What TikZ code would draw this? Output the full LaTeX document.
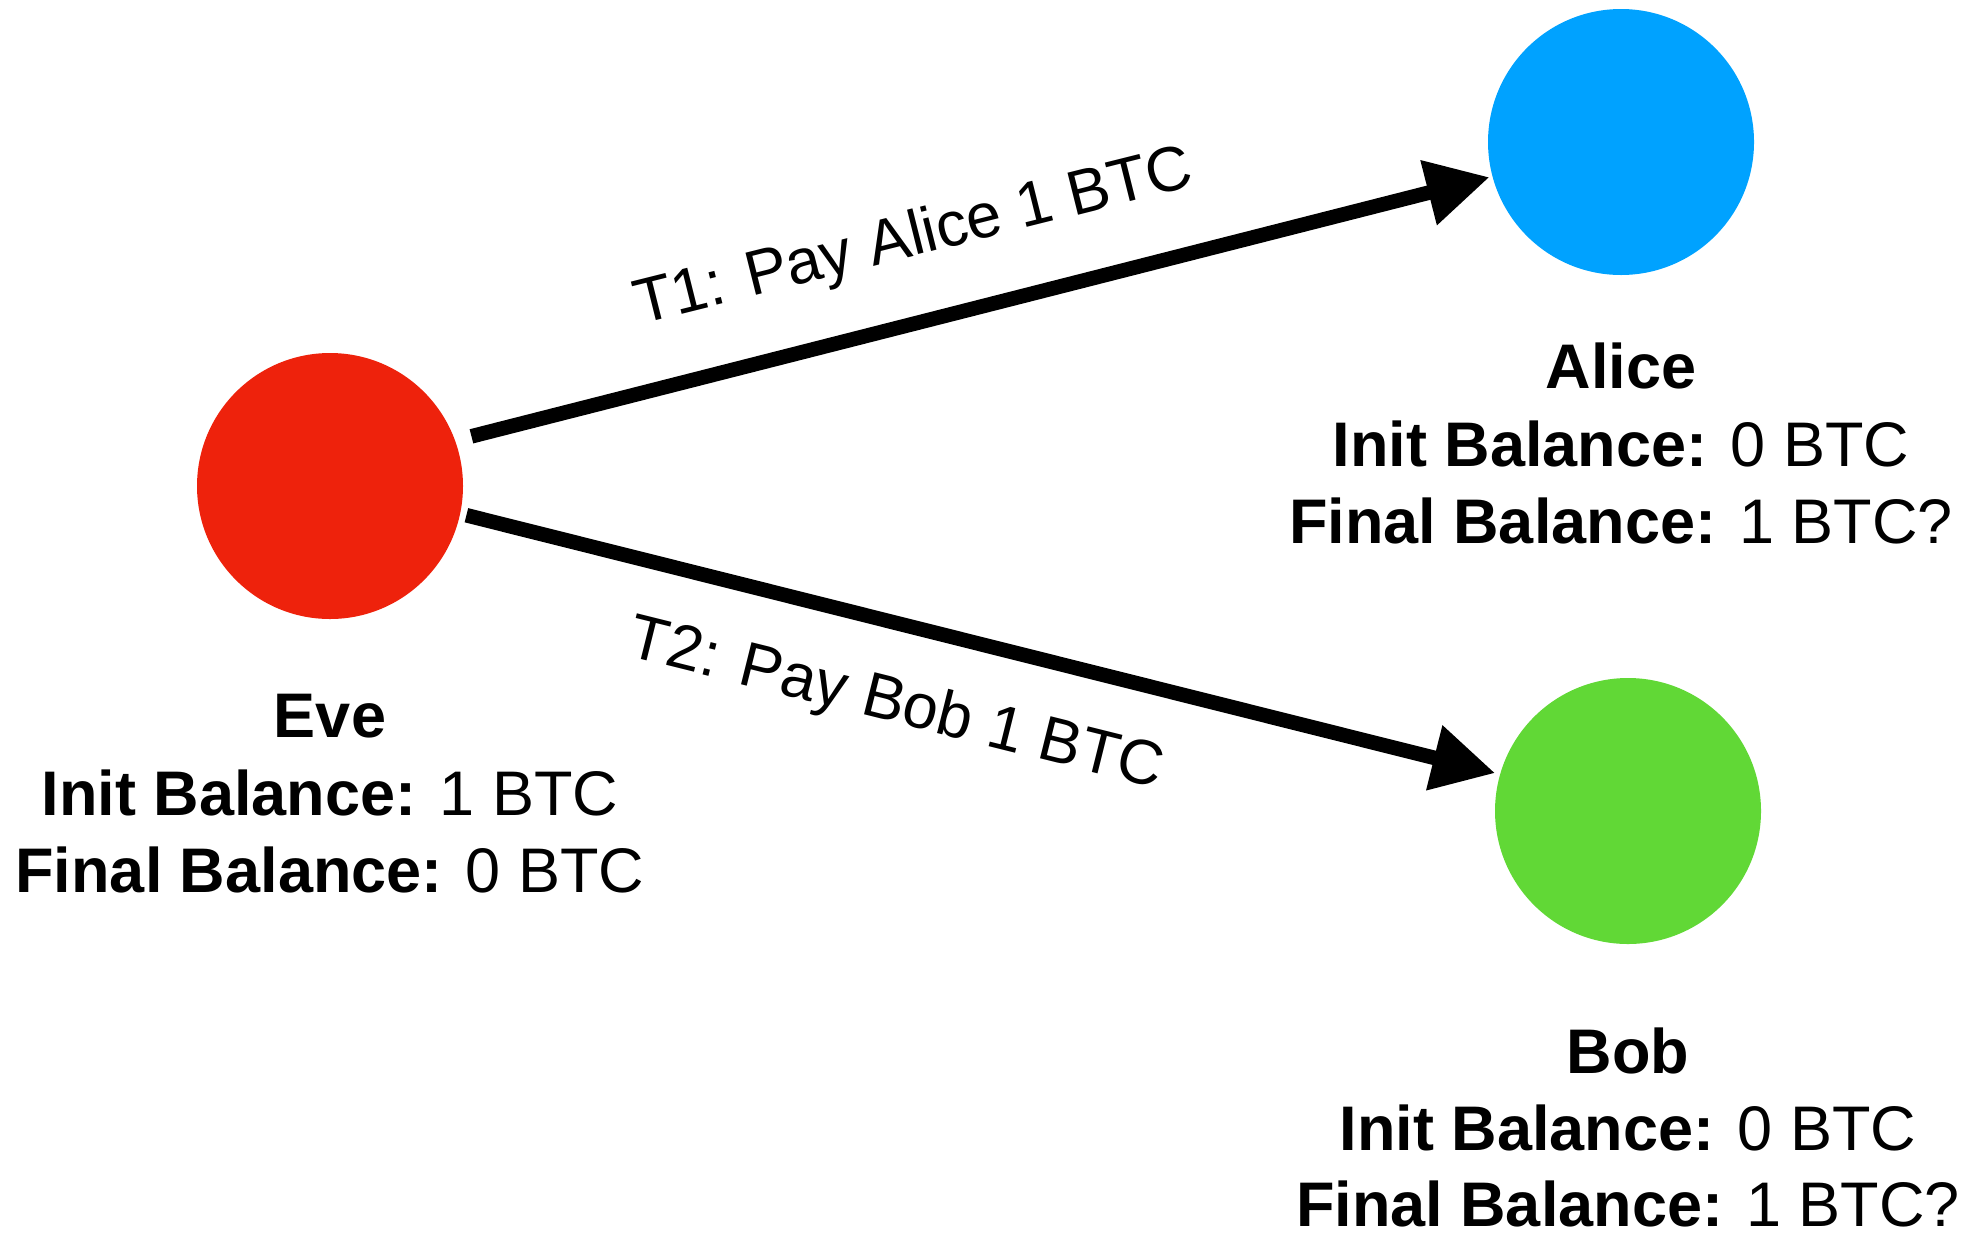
\documentclass[tikz,border=0pt]{standalone}
\usepackage{fontspec}
\setmainfont{Liberation Sans}
\usetikzlibrary{arrows.meta}
\definecolor{evered}{HTML}{EE220C}
\definecolor{aliceblue}{HTML}{00A2FF}
\definecolor{bobgreen}{HTML}{61D836}
\begin{document}
\begin{tikzpicture}[x=0.5pt,y=-0.5pt,
  person/.style={circle, minimum size=133pt, inner sep=0pt, outer sep=0pt, draw=none},
  txt/.style={anchor=base, inner sep=0pt, font=\fontsize{31.5}{38}\selectfont},
  conn/.style={line width=7.3pt, -{Triangle[length=31.5pt,width=31.5pt]}},
  lab/.style={anchor=base, inner sep=0pt, font=\fontsize{31.5}{38}\selectfont}]
\useasboundingbox (0,0) rectangle (1968,1232);
\node[person, fill=evered] (eve) at (330,486) {};
\node[person, fill=aliceblue] (alice) at (1621,142) {};
\node[person, fill=bobgreen] (bob) at (1628,811) {};

\node[txt] (evename) at (330,737) {\textbf{Eve}};
\node[txt] (eveinit) at (330,815) {\textbf{Init Balance:} 1 BTC};
\node[txt] (evefinal) at (330,892) {\textbf{Final Balance:} 0 BTC};

\node[txt] (alicename) at (1621,388) {\textbf{Alice}};
\node[txt] (aliceinit) at (1621,466) {\textbf{Init Balance:} 0 BTC};
\node[txt] (alicefinal) at (1621,543) {\textbf{Final Balance:} 1 BTC?};

\node[txt] (bobname) at (1628,1073) {\textbf{Bob}};
\node[txt] (bobinit) at (1628,1150) {\textbf{Init Balance:} 0 BTC};
\node[txt] (bobfinal) at (1628,1226) {\textbf{Final Balance:} 1 BTC?};

\draw[conn, shorten <=8.5pt, shorten >=1.5pt] (eve.20.6) -- (alice.195.2);
\draw[conn, shorten <=3.25pt, shorten >=2.5pt] (eve.-12.8) -- (bob.164.3);

\node[lab, rotate=14.06] (t1) at (918,255) {T1: Pay Alice 1 BTC};
\node[lab, rotate=-14.0] (t2) at (892,722) {T2: Pay Bob 1 BTC};
\end{tikzpicture}
\end{document}
